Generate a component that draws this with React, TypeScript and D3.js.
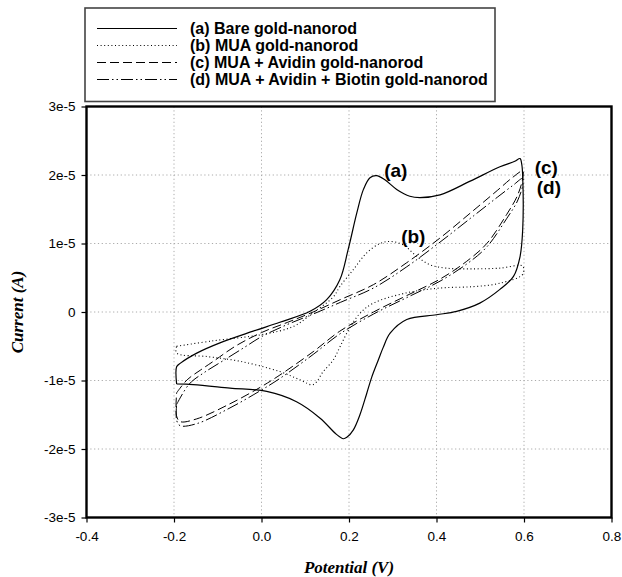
import React, { useEffect, useRef } from 'react';
import * as d3 from 'd3';

// potential (V) and current (in units of 1e-5 A), one closed CV loop per film
const bareE = [-0.194, -0.194, -0.186, -0.148, -0.095, -0.019, 0.042, 0.111, 0.149, 0.179, 0.198, 0.218, 0.233, 0.248, 0.263, 0.282, 0.309, 0.339, 0.362, 0.408, 0.477, 0.545, 0.579, 0.591, 0.595, 0.597, 0.597, 0.591, 0.576, 0.545, 0.499, 0.446, 0.4, 0.332, 0.294, 0.278, 0.267, 0.252, 0.24, 0.225, 0.21, 0.195, 0.187, 0.172, 0.134, 0.08, 0.012, -0.072, -0.156, -0.194];
const bareI = [-1.05, -0.8, -0.75, -0.6, -0.45, -0.28, -0.15, 0.01, 0.18, 0.47, 0.91, 1.45, 1.79, 1.96, 1.99, 1.93, 1.79, 1.69, 1.67, 1.71, 1.91, 2.12, 2.2, 2.24, 2.15, 1.98, 1.2, 0.81, 0.52, 0.33, 0.13, 0.01, -0.04, -0.11, -0.31, -0.52, -0.7, -0.95, -1.2, -1.5, -1.72, -1.83, -1.85, -1.79, -1.55, -1.31, -1.16, -1.11, -1.06, -1.05];

const muaE = [-0.194, -0.11, 0.0, 0.073, 0.118, 0.164, 0.179, 0.21, 0.24, 0.271, 0.294, 0.324, 0.355, 0.385, 0.423, 0.484, 0.545, 0.597, 0.597, 0.545, 0.484, 0.408, 0.332, 0.256, 0.225, 0.2, 0.18, 0.164, 0.141, 0.118, 0.088, 0.042, -0.049, -0.125, -0.194, -0.194];
const muaI = [-0.5, -0.42, -0.33, -0.21, -0.01, 0.22, 0.37, 0.62, 0.86, 1.0, 1.03, 0.98, 0.81, 0.69, 0.64, 0.63, 0.64, 0.67, 0.55, 0.42, 0.37, 0.35, 0.28, 0.13, -0.02, -0.25, -0.5, -0.7, -0.87, -1.06, -0.99, -0.87, -0.72, -0.65, -0.6, -0.5];

const avidinE = [-0.194, -0.17, -0.14, -0.11, -0.06, 0.0, 0.06, 0.118, 0.18, 0.256, 0.332, 0.408, 0.484, 0.54, 0.575, 0.597, 0.597, 0.585, 0.56, 0.515, 0.469, 0.408, 0.332, 0.256, 0.179, 0.118, 0.042, -0.003, -0.072, -0.148, -0.186, -0.194, -0.194];
const avidinI = [-1.18, -0.99, -0.85, -0.72, -0.5, -0.3, -0.15, 0.0, 0.18, 0.4, 0.72, 1.08, 1.48, 1.78, 1.97, 2.06, 1.95, 1.7, 1.42, 1.0, 0.74, 0.48, 0.24, 0.0, -0.28, -0.58, -0.92, -1.1, -1.34, -1.56, -1.6, -1.52, -1.18];

const biotinE = [-0.194, -0.165, -0.13, -0.09, -0.04, 0.0, 0.06, 0.118, 0.18, 0.256, 0.332, 0.408, 0.484, 0.54, 0.575, 0.597, 0.597, 0.585, 0.56, 0.515, 0.469, 0.408, 0.332, 0.256, 0.179, 0.118, 0.042, -0.003, -0.072, -0.148, -0.186, -0.194, -0.194];
const biotinI = [-1.35, -1.05, -0.88, -0.72, -0.52, -0.36, -0.18, -0.03, 0.14, 0.35, 0.66, 1.02, 1.4, 1.68, 1.85, 1.95, 1.85, 1.62, 1.36, 0.95, 0.7, 0.45, 0.21, -0.03, -0.32, -0.62, -0.97, -1.15, -1.4, -1.63, -1.66, -1.58, -1.35];

const legendLabels = [
  '(a) Bare gold-nanorod',
  '(b) MUA gold-nanorod',
  '(c) MUA + Avidin gold-nanorod',
  '(d) MUA + Avidin + Biotin gold-nanorod',
];
const curveTags = ['(a)', '(b)', '(c)', '(d)'];
const tagE = [0.307, 0.347, 0.651, 0.657];
const tagI = [2.07, 1.1, 2.11, 1.82];

const xTicks = [-0.4, -0.2, 0, 0.2, 0.4, 0.6, 0.8];
const xTickLabels = ['-0.4', '-0.2', '0.0', '0.2', '0.4', '0.6', '0.8'];
const yTicks = [-3e-5, -2e-5, -1e-5, 0, 1e-5, 2e-5, 3e-5];
const yTickLabels = ['-3e-5', '-2e-5', '-1e-5', '0', '1e-5', '2e-5', '3e-5'];

const W = 622;
const H = 577;
const plotL = 86.5;
const plotR = 611.5;
const plotT = 106.5;
const plotB = 517.5;

const sans = 'Liberation Sans, Arial, sans-serif';
const serif = 'Liberation Serif, Times New Roman, serif';

const App = () => {
  const svgRef = useRef(null);

  useEffect(() => {
    const svg = d3.select(svgRef.current);
    svg.selectAll('*').remove();

    const x = d3.scaleLinear().domain([-0.4, 0.8]).range([plotL, plotR]);
    const y = d3.scaleLinear().domain([-3e-5, 3e-5]).range([plotB, plotT]);

    const series = [
      { E: bareE, I: bareI, dash: null, w: 1.2 },
      { E: muaE, I: muaI, dash: '1,2.6', w: 1.1 },
      { E: avidinE, I: avidinI, dash: '9,4', w: 1 },
      { E: biotinE, I: biotinI, dash: '12,3,1.5,3,1.5,3', w: 1 },
    ];

    // grid
    const grid = svg.append('g').attr('stroke', '#aaa').attr('stroke-dasharray', '1.2,2.6');
    grid.selectAll('line.v')
      .data(xTicks.slice(1, -1))
      .join('line')
      .attr('class', 'v')
      .attr('x1', (d) => x(d))
      .attr('x2', (d) => x(d))
      .attr('y1', plotT)
      .attr('y2', plotB);
    grid.selectAll('line.h')
      .data(yTicks.slice(1, -1))
      .join('line')
      .attr('class', 'h')
      .attr('x1', plotL)
      .attr('x2', plotR)
      .attr('y1', (d) => y(d))
      .attr('y2', (d) => y(d));

    // curves
    const line = d3
      .line()
      .x((d) => x(d[0]))
      .y((d) => y(d[1] * 1e-5))
      .curve(d3.curveCatmullRom.alpha(0.5));

    series.forEach((s) => {
      const pts = s.E.map((e, i) => [e, s.I[i]]);
      svg.append('path')
        .attr('d', line(pts))
        .attr('fill', 'none')
        .attr('stroke', '#000')
        .attr('stroke-width', s.w)
        .attr('stroke-dasharray', s.dash);
    });

    // axes
    const xAxis = d3.axisBottom(x)
      .tickValues(xTicks)
      .tickFormat((d, i) => xTickLabels[i])
      .tickSize(5)
      .tickPadding(9);
    svg.append('g')
      .attr('transform', `translate(0,${plotB})`)
      .call(xAxis)
      .call((g) => g.select('.domain').remove())
      .call((g) => g.selectAll('line').attr('stroke-width', 1.2))
      .call((g) => g.selectAll('text').attr('font-family', sans).attr('font-size', 13.5).attr('fill', '#000'));

    const yAxis = d3.axisLeft(y)
      .tickValues(yTicks)
      .tickFormat((d, i) => yTickLabels[i])
      .tickSize(5)
      .tickPadding(6);
    svg.append('g')
      .attr('transform', `translate(${plotL},0)`)
      .call(yAxis)
      .call((g) => g.select('.domain').remove())
      .call((g) => g.selectAll('line').attr('stroke-width', 1.2))
      .call((g) => g.selectAll('text').attr('font-family', sans).attr('font-size', 13.5).attr('fill', '#000'));

    // frame
    svg.append('rect')
      .attr('x', plotL)
      .attr('y', plotT)
      .attr('width', plotR - plotL)
      .attr('height', plotB - plotT)
      .attr('fill', 'none')
      .attr('stroke', '#000')
      .attr('stroke-width', 2.4);

    // axis titles
    svg.append('text')
      .attr('x', (plotL + plotR) / 2)
      .attr('y', 573)
      .attr('text-anchor', 'middle')
      .attr('font-family', serif)
      .attr('font-weight', 'bold')
      .attr('font-style', 'italic')
      .attr('font-size', 17)
      .text('Potential (V)');
    svg.append('text')
      .attr('transform', `translate(23,${(plotT + plotB) / 2}) rotate(-90)`)
      .attr('text-anchor', 'middle')
      .attr('font-family', serif)
      .attr('font-weight', 'bold')
      .attr('font-style', 'italic')
      .attr('font-size', 17)
      .text('Current (A)');

    // curve tags
    svg.selectAll('text.tag')
      .data(curveTags)
      .join('text')
      .attr('class', 'tag')
      .attr('x', (d, i) => x(tagE[i]))
      .attr('y', (d, i) => y(tagI[i] * 1e-5))
      .attr('dy', '0.36em')
      .attr('text-anchor', 'middle')
      .attr('font-family', sans)
      .attr('font-weight', 'bold')
      .attr('font-size', 19)
      .text((d) => d);

    // legend
    const lg = svg.append('g');
    lg.append('rect')
      .attr('x', 85)
      .attr('y', 8)
      .attr('width', 410)
      .attr('height', 93.5)
      .attr('fill', '#fff')
      .attr('stroke', '#444')
      .attr('stroke-width', 1.6);
    const rows = lg.selectAll('g.row')
      .data(legendLabels)
      .join('g')
      .attr('class', 'row')
      .attr('transform', (d, i) => `translate(0,${28.5 + i * 17})`);
    rows.append('line')
      .attr('x1', 97)
      .attr('x2', 177)
      .attr('stroke', '#000')
      .attr('stroke-width', (d, i) => series[i].w)
      .attr('stroke-dasharray', (d, i) => series[i].dash);
    rows.append('text')
      .attr('x', 190)
      .attr('dy', '0.36em')
      .attr('font-family', sans)
      .attr('font-weight', 'bold')
      .attr('font-size', 16)
      .text((d) => d);
  }, []);

  return (
    <svg
      ref={svgRef}
      width={W}
      height={H}
      viewBox={`0 0 ${W} ${H}`}
      style={{ position: 'absolute', left: 0, top: 0, background: '#fff' }}
    />
  );
};

export default App;
